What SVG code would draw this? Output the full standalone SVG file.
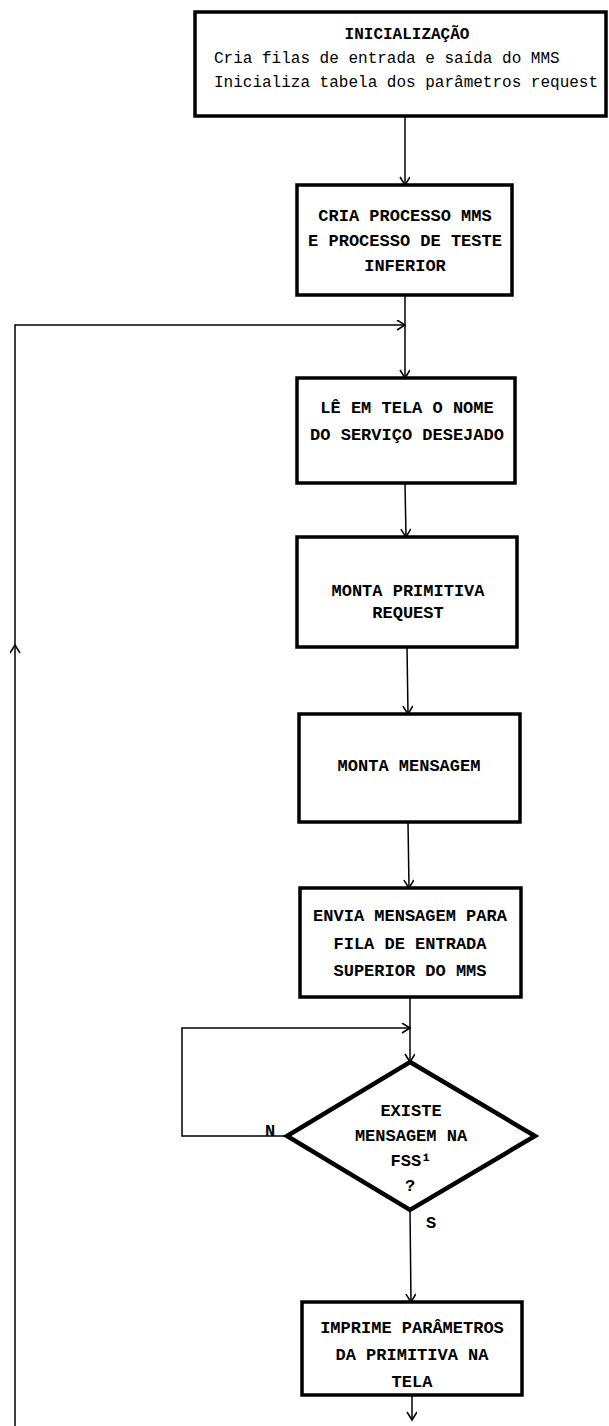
<svg xmlns="http://www.w3.org/2000/svg" width="609" height="1426" viewBox="0 0 609 1426">
<style>
.box{fill:#fff;stroke:#000;stroke-width:3.5}
.dia{fill:#fff;stroke:#000;stroke-width:4.5}
.con{fill:none;stroke:#000;stroke-width:1.5}
.t{font-family:"Liberation Mono","DejaVu Sans Mono",monospace;font-size:17px;font-weight:bold;fill:#000;text-anchor:middle}
.s{font-family:"Liberation Mono","DejaVu Sans Mono",monospace;font-size:16px;fill:#000}
</style>
<defs>
<marker id="ah" markerWidth="12" markerHeight="12" refX="9" refY="5" orient="auto" markerUnits="userSpaceOnUse">
<path d="M1,0 L9,5 L1,10" fill="none" stroke="#000" stroke-width="1.5"/>
</marker>
</defs>
<rect width="609" height="1426" fill="#fff"/>
<g id="connectors">
<path class="con" d="M405,117 L405,185" marker-end="url(#ah)"/>
<path class="con" d="M405,295 L405,378" marker-end="url(#ah)"/>
<path class="con" d="M405,483 L406,537" marker-end="url(#ah)"/>
<path class="con" d="M407,647 L408,714" marker-end="url(#ah)"/>
<path class="con" d="M408,822 L409,888" marker-end="url(#ah)"/>
<path class="con" d="M410,997 L410,1062" marker-end="url(#ah)"/>
<path class="con" d="M287,1136 L182,1136 L182,1028 L410,1028" marker-end="url(#ah)"/>
<path class="con" d="M410,1210 L411,1302" marker-end="url(#ah)"/>
<path class="con" d="M412,1395 L412,1420" marker-end="url(#ah)"/>
<path class="con" d="M15,1426 L15,645" marker-end="url(#ah)"/>
<path class="con" d="M15,645 L15,325 L405,325" marker-end="url(#ah)"/>
<text class="t" x="270" y="1136">N</text>
<text class="t" x="431" y="1228">S</text>
</g>
<g id="n1">
<rect class="box" x="195" y="12" width="411" height="104"/>
<text class="t" x="407" y="39" style="font-size:16px">INICIALIZAÇÃO</text>
<text class="s" x="214" y="63">Cria filas de entrada e saída do MMS</text>
<text class="s" x="214" y="87">Inicializa tabela dos parâmetros request</text>
</g>
<g id="n2">
<rect class="box" x="297" y="185" width="215" height="110"/>
<text class="t" x="405" y="221">CRIA PROCESSO MMS</text>
<text class="t" x="405" y="246">E PROCESSO DE TESTE</text>
<text class="t" x="405" y="271">INFERIOR</text>
</g>
<g id="n3">
<rect class="box" x="297" y="378" width="218" height="105"/>
<text class="t" x="407" y="413">LÊ EM TELA O NOME</text>
<text class="t" x="407" y="440">DO SERVIÇO DESEJADO</text>
</g>
<g id="n4">
<rect class="box" x="297" y="537" width="220" height="110"/>
<text class="t" x="408" y="596">MONTA PRIMITIVA</text>
<text class="t" x="408" y="618">REQUEST</text>
</g>
<g id="n5">
<rect class="box" x="299" y="714" width="221" height="108"/>
<text class="t" x="409" y="771">MONTA MENSAGEM</text>
</g>
<g id="n6">
<rect class="box" x="300" y="888" width="221" height="109"/>
<text class="t" x="410" y="921">ENVIA MENSAGEM PARA</text>
<text class="t" x="410" y="949">FILA DE ENTRADA</text>
<text class="t" x="410" y="976">SUPERIOR DO MMS</text>
</g>
<g id="n7">
<polygon class="dia" points="410,1062 535,1136 410,1210 287,1136"/>
<text class="t" x="411" y="1116">EXISTE</text>
<text class="t" x="411" y="1141">MENSAGEM NA</text>
<text class="t" x="411" y="1166">FSS¹</text>
<text class="t" x="410" y="1191">?</text>
</g>
<g id="n8">
<rect class="box" x="302" y="1302" width="220" height="93"/>
<text class="t" x="412" y="1333">IMPRIME PARÂMETROS</text>
<text class="t" x="412" y="1360">DA PRIMITIVA NA</text>
<text class="t" x="412" y="1387">TELA</text>
</g>
</svg>
